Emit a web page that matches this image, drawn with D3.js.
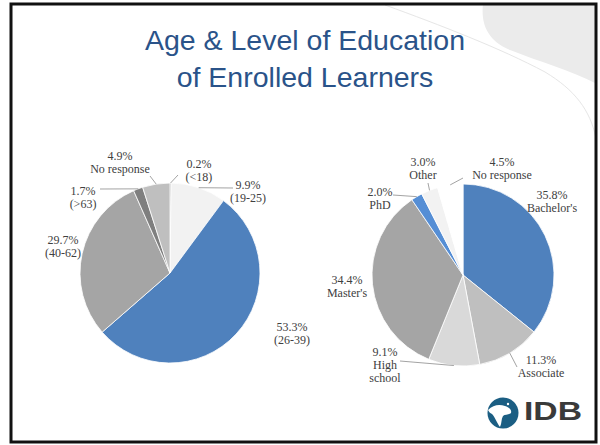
<!DOCTYPE html>
<html lang="en">
<head>
<meta charset="UTF-8">
<title>Age &amp; Level of Education</title>
<script src="https://d3js.org/d3.v7.min.js"></script>
<style>
  body { margin: 0; background: #fff; }
  text.lbl {
    font-family: 'Liberation Serif', 'Times New Roman', serif;
    font-size: 12px;
    fill: #404040;
    text-anchor: middle;
  }
  text.title {
    font-family: 'Liberation Sans', Arial, sans-serif;
    font-size: 28.5px;
    fill: #2a5389;
    text-anchor: middle;
  }
</style>
</head>
<body>
<svg width="600" height="445"></svg>
<script>
// age of learners
const ageCats = ["<18", "19-25", "26-39", "40-62", ">63", "No response"];
const agePct = [0.2, 9.9, 53.3, 29.7, 1.7, 4.9];
const ageText = [["(<18)"], ["(19-25)"], ["(26-39)"], ["(40-62)"], ["(>63)"], ["No response"]];

// level of education
const eduCats = ["Bachelor's", "Associate", "High school", "Master's", "PhD", "Other", "No response"];
const eduPct = [35.8, 11.3, 9.1, 34.4, 2.0, 3.0, 4.5];
const eduText = [["Bachelor's"], ["Associate"], ["High", "school"], ["Master's"], ["PhD"], ["Other"], ["No response"]];

const ageColors = ["#595959", "#f2f2f2", "#4f81bd", "#a5a5a5", "#7f7f7f", "#bfbfbf"];
const eduColors = ["#4f81bd", "#bfbfbf", "#d9d9d9", "#a5a5a5", "#558ed5", "#f2f2f2", "#ffffff"];

// label placement (offset from pie centre, first baseline) and leader ends
const ageLayout = {
  "<18":         {dx: 29,   dy: -105, lead: [8, -98]},
  "19-25":       {dx: 78,   dy: -84,  lead: [63, -85]},
  "26-39":       {dx: 122,  dy: 58},
  "40-62":       {dx: -107, dy: -29},
  ">63":         {dx: -87,  dy: -78,  lead: [-70, -84]},
  "No response": {dx: -50,  dy: -113, lead: [-20, -97]}
};
const eduLayout = {
  "Bachelor's":  {dx: 89,   dy: -76},
  "Associate":   {dx: 78,   dy: 89,  lead: [54, 92]},
  "High school": {dx: -78,  dy: 81,  lead: [-63, 86]},
  "Master's":    {dx: -116, dy: 9},
  "PhD":         {dx: -83,  dy: -79, lead: [-70, -80]},
  "Other":       {dx: -40,  dy: -109, lead: [-35, -92]},
  "No response": {dx: 39,   dy: -109, lead: [0, -97]}
};

const svg = d3.select("svg");

// decorative swoosh top right
svg.append("path")
    .attr("d", "M483,4 C481,22 486,40 510,50 C540,62 570,70 597,84 L597,4 Z")
    .attr("fill", "#ebebeb");
svg.append("path")
    .attr("d", "M385,5 C440,25 500,48 545,72 C575,90 590,110 596,138")
    .attr("fill", "none").attr("stroke", "#e6e6e6").attr("stroke-width", 1);

// frame
svg.append("rect")
    .attr("x", 11).attr("y", 4).attr("width", 585).attr("height", 438)
    .attr("fill", "none").attr("stroke", "#111").attr("stroke-width", 3);

// title
const titleLines = ["Age & Level of Education", "of Enrolled Learners"];
svg.selectAll("text.title").data(titleLines).enter().append("text")
    .attr("class", "title")
    .attr("x", 305)
    .attr("y", (d, i) => 50 + i * 37)
    .text(d => d);

function drawPie(cx, cy, r, cats, pct, texts, colors, layout) {
  const g = svg.append("g").attr("transform", `translate(${cx},${cy})`);
  const pie = d3.pie().sort(null).value(d => d);
  const arcs = pie(pct);
  const arc = d3.arc().innerRadius(0).outerRadius(r);
  const rim = d3.arc().innerRadius(r).outerRadius(r);

  g.selectAll("path.slice").data(arcs).enter().append("path")
      .attr("class", "slice")
      .attr("d", arc)
      .attr("fill", (d, i) => colors[i])
      .attr("stroke", "#fff")
      .attr("stroke-width", 0.8);

  arcs.forEach((d, i) => {
    const lay = layout[cats[i]];
    if (lay.lead) {
      const p = rim.centroid(d);
      g.append("line")
          .attr("x1", p[0]).attr("y1", p[1])
          .attr("x2", lay.lead[0]).attr("y2", lay.lead[1])
          .attr("stroke", "#8c8c8c").attr("stroke-width", 0.8);
    }
    const lines = [pct[i].toFixed(1) + "%"].concat(texts[i]);
    const t = g.append("text").attr("class", "lbl")
        .attr("x", lay.dx).attr("y", lay.dy);
    lines.forEach((s, j) => {
      t.append("tspan").attr("x", lay.dx).attr("dy", j === 0 ? 0 : 13).text(s);
    });
  });
}

drawPie(170, 273, 90, ageCats, agePct, ageText, ageColors, ageLayout);
drawPie(463, 275, 91, eduCats, eduPct, eduText, eduColors, eduLayout);

// IDB logo
const logo = svg.append("g").attr("transform", "translate(503,413)");
logo.append("circle").attr("r", 15.5).attr("fill", "#1b5e83");
logo.append("path")
    .attr("d", "M-15,-3 C-10,-8 -4,-9 2,-7 C6,-6 9,-3 8,0 C6,2 2,1 0,3 C-2,6 -1,10 -3,14 C-6,10 -8,4 -11,1 C-13,0 -14,-1 -15,-3 Z")
    .attr("fill", "#fff");
logo.append("circle").attr("cx", 5).attr("cy", -9).attr("r", 1.2).attr("fill", "#fff");
svg.append("text")
    .attr("x", 524).attr("y", 420)
    .attr("textLength", 58)
    .attr("lengthAdjust", "spacingAndGlyphs")
    .style("font-family", "'Liberation Sans', Arial, sans-serif")
    .style("font-weight", "bold")
    .style("font-size", "26px")
    .style("fill", "#3a3a3a")
    .text("IDB");
</script>
</body>
</html>
